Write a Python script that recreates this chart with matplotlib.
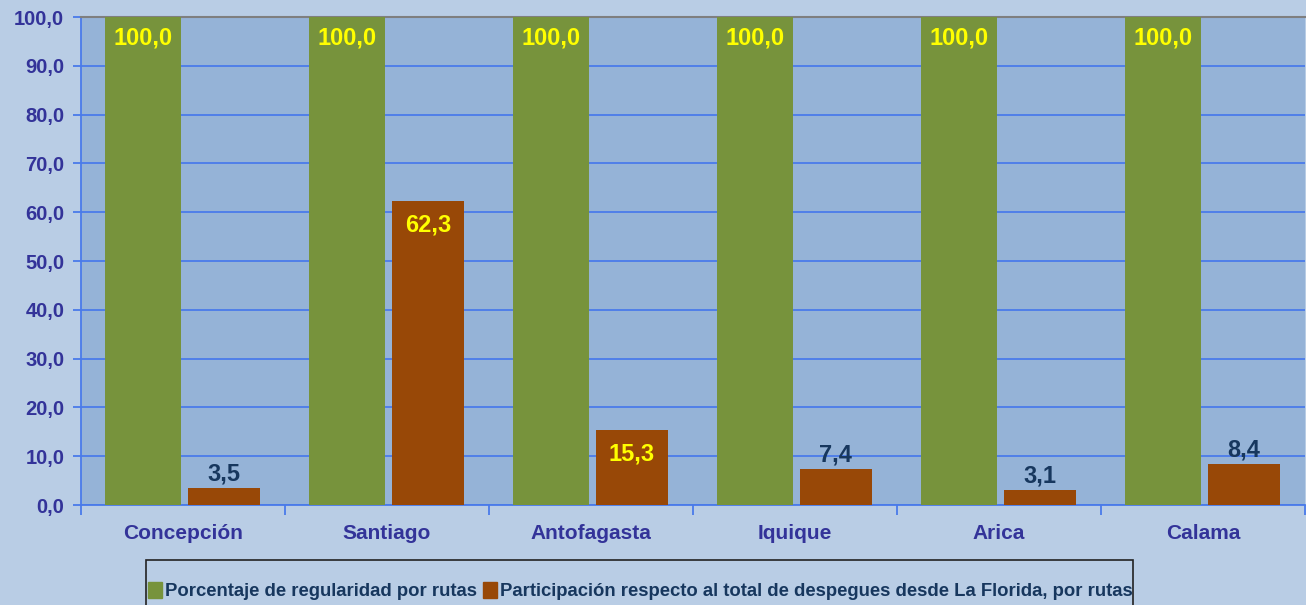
import matplotlib
matplotlib.use('Agg')
import numpy as np
import matplotlib.pyplot as plt
import matplotlib.patches as mpatches

# data
rutas = ['Concepción', 'Santiago', 'Antofagasta', 'Iquique', 'Arica', 'Calama']
regularidad = [100.0, 100.0, 100.0, 100.0, 100.0, 100.0]
participacion = [3.5, 62.3, 15.3, 7.4, 3.1, 8.4]
serie_labels = ['Porcentaje de regularidad por rutas',
                'Participación respecto al total de despegues desde La Florida, por rutas']

plt.rcParams['font.family'] = ['Liberation Sans', 'DejaVu Sans']
plt.rcParams['font.weight'] = 'bold'

c_green = '#77933C'
c_brown = '#984807'
c_bg = '#B9CDE5'
c_plot = '#95B3D7'
c_grid = '#4A7BEA'
c_tick = '#333399'
c_navy = '#17375E'

def fmt(v):
    return ('%.1f' % v).replace('.', ',')

fig = plt.figure(figsize=(13.06, 6.05), dpi=100, facecolor=c_bg)
W, H = 1306.0, 605.0
ax = fig.add_axes([81 / W, 1 - 505 / H, 1224 / W, 488 / H])
ax.set_facecolor(c_plot)

x = np.arange(len(rutas))
b1 = ax.bar(x - 0.195, regularidad, 0.37, color=c_green, zorder=3)
b2 = ax.bar(x + 0.2, participacion, 0.35, color=c_brown, zorder=3)

ax.set_xlim(-0.5, len(rutas) - 0.5)
ax.set_ylim(0, 100)
ax.set_yticks(np.arange(0, 101, 10))
ax.yaxis.set_major_formatter(matplotlib.ticker.FuncFormatter(lambda v, p: fmt(v)))
ax.grid(True, axis='y', color=c_grid, lw=1.3, zorder=1)
ax.set_axisbelow(True)

ax.set_xticks(x)
ax.set_xticklabels(rutas)
ax.set_xticks(np.arange(-0.5, len(rutas), 1), minor=True)
ax.tick_params(axis='x', which='major', length=0, pad=14, labelsize=15, labelcolor=c_tick)
ax.tick_params(axis='x', which='minor', length=7, direction='out', color=c_grid, width=1.3)
ax.tick_params(axis='y', length=6, direction='out', color=c_grid, width=1.3, pad=6,
               labelsize=14.5, labelcolor=c_tick)
for lab in ax.get_xticklabels() + ax.get_yticklabels():
    lab.set_fontweight('bold')

ax.spines['left'].set_color(c_grid)
ax.spines['left'].set_linewidth(1.3)
ax.spines['bottom'].set_color(c_grid)
ax.spines['bottom'].set_linewidth(1.3)
ax.spines['top'].set_color('#7F7F7F')
ax.spines['top'].set_linewidth(1.5)
ax.spines['right'].set_visible(False)

# value labels
for rect, v in zip(b1, regularidad):
    ax.annotate(fmt(v), (rect.get_x() + rect.get_width() / 2, v),
                xytext=(0, -7), textcoords='offset points', ha='center', va='top',
                fontsize=17, fontweight='bold', color='#FFFF00', zorder=5)
for rect, v in zip(b2, participacion):
    cx = rect.get_x() + rect.get_width() / 2
    if v >= 10:
        ax.annotate(fmt(v), (cx, v), xytext=(0, -9), textcoords='offset points', ha='center',
                    va='top', fontsize=17, fontweight='bold', color='#FFFF00', zorder=5)
    else:
        ax.annotate(fmt(v), (cx, v), xytext=(0, 2), textcoords='offset points', ha='center',
                    va='bottom', fontsize=17, fontweight='bold', color=c_navy, zorder=5)

# legend box, cut off at the bottom edge like the original
fig.patches.append(mpatches.Rectangle((146 / W, -0.05), (1133 - 146) / W, 0.05 + 45 / H,
                                      transform=fig.transFigure, facecolor='none',
                                      edgecolor='#222222', lw=1.2))
handles = [mpatches.Patch(color=c_green), mpatches.Patch(color=c_brown)]
fig.legend(handles, serie_labels, loc='center left', bbox_to_anchor=(148 / W, 1 - 591 / H),
           ncol=2, frameon=False, handlelength=0.75, handleheight=0.95, handletextpad=0.15,
           columnspacing=0.35, borderpad=0, borderaxespad=0,
           prop={'family': ['Liberation Sans'], 'weight': 'bold', 'size': 13.3},
           labelcolor=c_navy)

fig.savefig('out.png', dpi=100, facecolor=c_bg)
